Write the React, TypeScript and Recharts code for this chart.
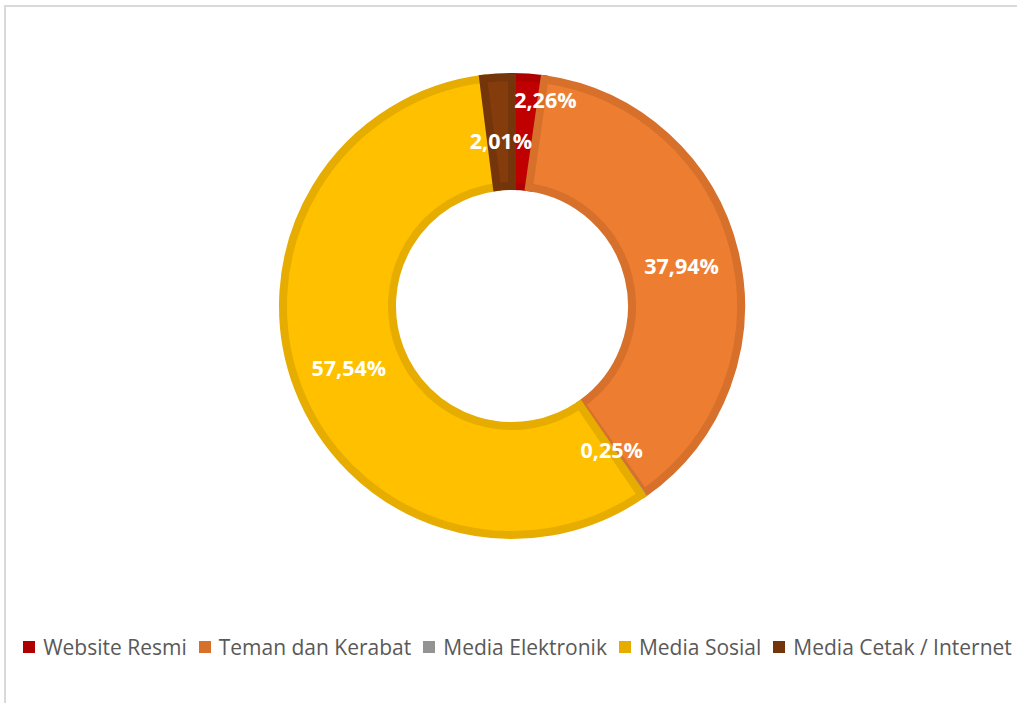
import { PieChart, Pie, Cell, Legend } from "recharts"

// share of respondents by information source (%)
const categories = ["Website Resmi", "Teman dan Kerabat", "Media Elektronik", "Media Sosial", "Media Cetak / Internet"]
const shares = [2.26, 37.94, 0.25, 57.54, 2.01]

const FILLS = ["#C00000", "#ED7D31", "#A5A5A5", "#FFC000", "#843C0C"]
const BORDERS = ["#AE0000", "#D6702B", "#939393", "#E6AD00", "#75350A"]
const STROKE_W = [8, 8, 2, 8, 8]
// small manual label nudges, like the hand-placed labels in the original
const LABEL_NUDGE: [number, number][] = [[21, -32], [0, 0], [0, 0], [0, 0], [0, 9]]

const data = categories.map((name, i) => ({ name, value: shares[i] }))

const RAD = Math.PI / 180

function renderLabel(props: any) {
  const { cx, cy, midAngle, innerRadius, outerRadius, index, value } = props
  const r = (innerRadius + outerRadius) / 2
  const [dx, dy] = LABEL_NUDGE[index]
  const x = cx + r * Math.cos(-midAngle * RAD) + dx
  const y = cy + r * Math.sin(-midAngle * RAD) + dy
  return (
    <text
      x={x}
      y={y}
      fill="#ffffff"
      textAnchor="middle"
      dominantBaseline="central"
      style={{ fontFamily: "'Open Sans', sans-serif", fontSize: 21.5, fontWeight: 700 }}
    >
      {value.toFixed(2).replace(".", ",") + "%"}
    </text>
  )
}

function LegendContent() {
  return (
    <div style={{ display: "flex", justifyContent: "center", alignItems: "center", gap: 12, paddingLeft: 18 }}>
      {categories.map((c, i) => (
        <div key={c} style={{ display: "flex", alignItems: "center", gap: 8 }}>
          <span style={{ width: 12, height: 12, background: BORDERS[i], display: "inline-block" }} />
          <span style={{ fontFamily: "'Open Sans', sans-serif", fontSize: 21, color: "#595959", whiteSpace: "nowrap" }}>{c}</span>
        </div>
      ))}
    </div>
  )
}

export default function App() {
  return (
    <div style={{ position: "absolute", left: 0, top: 0, width: 1017, height: 703, background: "#fff", overflow: "hidden" }}>
      <div
        style={{
          position: "absolute",
          left: 4,
          top: 5,
          width: 1013,
          height: 698,
          borderTop: "2px solid #d9d9d9",
          borderLeft: "2px solid #d9d9d9",
        }}
      />
      <div style={{ position: "absolute", left: 0, top: 0 }}>
        <PieChart width={1017} height={703} margin={{ top: 0, right: 0, bottom: 0, left: 0 }}>
          <Pie
            data={data}
            dataKey="value"
            nameKey="name"
            cx={512}
            cy={306}
            innerRadius={120}
            outerRadius={229}
            startAngle={90}
            endAngle={-270}
            paddingAngle={0}
            label={renderLabel}
            labelLine={false}
            isAnimationActive={false}
          >
            {data.map((d, i) => (
              <Cell key={d.name} fill={FILLS[i]} stroke={BORDERS[i]} strokeWidth={STROKE_W[i]} />
            ))}
          </Pie>
          <Legend
            content={<LegendContent />}
            wrapperStyle={{ position: "absolute", top: 633, left: 0, width: 1017 }}
          />
        </PieChart>
      </div>
    </div>
  )
}
